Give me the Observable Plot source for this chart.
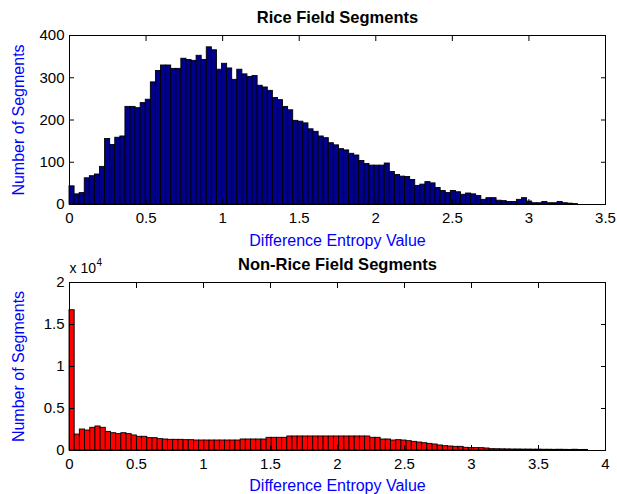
<!DOCTYPE html>
<html><head><meta charset="utf-8">
<script src="https://cdn.jsdelivr.net/npm/d3@7"></script>
<script src="https://cdn.jsdelivr.net/npm/@observablehq/plot@0.6"></script>
<style>
body{margin:0;background:#fff}
#c{width:617px;height:494px;position:relative}
#c svg{display:block;overflow:visible}
</style>
</head><body><div id="c"></div>
<script>
// ---- Data ----
const riceTitle = "Rice Field Segments";
const nonRiceTitle = "Non-Rice Field Segments";
const xLabel = "Difference Entropy Value";
const yLabel = "Number of Segments";

const riceBinWidth = 0.0332;
const riceCounts = [
  43,24,27,62,67,71,89,155,141,158,161,231,231,228,240,248,289,316,329,329,321,321,345,342,340,
  352,342,372,365,319,333,322,295,319,308,302,304,281,277,269,252,247,231,223,198,196,192,178,172,161,157,
  145,140,131,128,120,116,103,96,92,92,92,97,77,70,66,65,58,44,47,53,50,39,
  32,27,32,29,23,26,24,20,11,15,15,9,8,6,6,11,15,7,3,3,6,3,3,6,3,2,1
];

const nonRiceBinWidth = 0.0387;
const nonRiceCounts = [
  16700,1900,2500,2380,2700,2860,2700,2220,2060,1950,2060,1950,1790,1630,1630,1470,1470,1350,1310,1270,1270,1270,1230,1230,1190,1190,1190,1190,1190,1190,1190,1190,1190,
  1310,1310,1310,1310,1310,
  1510,1510,1510,1510,
  1670,1670,1670,1670,1670,1670,1670,1670,1670,1670,1670,1670,1670,1670,1670,1670,
  1510,1510,
  1310,1310,
  1190,1230,1190,1110,1030,950,870,790,715,600,515,475,435,435,320,280,280,280,240,
  160,150,140,130,120,120,110,110,100,100,90,90,80,90,80,70,90,60,70
];

const riceXTicks = [0,0.5,1,1.5,2,2.5,3,3.5];
const riceYTicks = [0,100,200,300,400];
const nonRiceXTicks = [0,0.5,1,1.5,2,2.5,3,3.5,4];
const nonRiceYTicks = [0,5000,10000,15000,20000];
const nonRiceYTickLabels = ["0","0.5","1","1.5","2"];
const sciLabel = "x 10";
const sciExp = "4";

// ---- Chart builder ----
function chart({counts, binWidth, fill, xDomain, xTicks, yDomain, yTicks, yFormat, title, marginTop, marginBottom, height, xLabelDy, extra = []}) {
  const data = counts.map((v, i) => ({x1: i * binWidth, x2: (i + 1) * binWidth, y: v}));
  return Plot.plot({
    width: 617,
    height,
    marginTop,
    marginBottom,
    marginLeft: 69,
    marginRight: 12,
    x: {domain: xDomain},
    y: {domain: yDomain},
    style: {fontFamily: "'Liberation Sans', Arial, sans-serif", fontSize: "15px", color: "black", background: "white", overflow: "visible"},
    marks: [
      Plot.rectY(data, {x1: "x1", x2: "x2", y: "y", fill, stroke: "black", strokeWidth: 0.9}),
      Plot.frame({stroke: "black"}),
      Plot.axisX(xTicks, {anchor: "bottom", tickSize: -5, text: null, label: null}),
      Plot.axisX(xTicks, {anchor: "top", tickSize: -5, text: null, label: null}),
      Plot.axisX(xTicks, {anchor: "bottom", tickSize: 0, tickPadding: 8, tickFormat: d => String(d), label: null, fill: "black"}),
      Plot.axisY(yTicks, {anchor: "left", tickSize: -5, text: null, label: null}),
      Plot.axisY(yTicks, {anchor: "right", tickSize: -5, text: null, label: null}),
      Plot.axisY(yTicks, {anchor: "left", tickSize: 0, tickPadding: 5, tickFormat: yFormat, label: null, fill: "black"}),
      Plot.text([title], {frameAnchor: "top", lineAnchor: "middle", dy: -18, fontWeight: "bold", fontSize: 16.5, fill: "black"}),
      Plot.text([xLabel], {frameAnchor: "bottom", lineAnchor: "middle", dy: xLabelDy, fill: "blue", fontSize: 16}),
      Plot.text([yLabel], {frameAnchor: "left", textAnchor: "middle", lineAnchor: "middle", dx: -51, rotate: -90, fill: "blue", fontSize: 16}),
      ...extra
    ]
  });
}

const c = document.getElementById("c");
c.appendChild(chart({
  counts: riceCounts, binWidth: riceBinWidth, fill: "#00008b",
  xDomain: [0, 3.5], xTicks: riceXTicks, yDomain: [0, 400], yTicks: riceYTicks,
  yFormat: d => String(d), title: riceTitle,
  marginTop: 35, marginBottom: 49, height: 253, xLabelDy: 36
}));
c.appendChild(chart({
  counts: nonRiceCounts, binWidth: nonRiceBinWidth, fill: "#ff0000",
  xDomain: [0, 4], xTicks: nonRiceXTicks, yDomain: [0, 20000], yTicks: nonRiceYTicks,
  yFormat: d => nonRiceYTickLabels[nonRiceYTicks.indexOf(d)], title: nonRiceTitle,
  marginTop: 29, marginBottom: 44, height: 241, xLabelDy: 35,
  extra: [
    Plot.text([sciLabel], {frameAnchor: "top-left", textAnchor: "start", lineAnchor: "middle", dx: 0, dy: -14, fontSize: 14, fill: "black"}),
    Plot.text([sciExp], {frameAnchor: "top-left", textAnchor: "start", lineAnchor: "middle", dx: 27, dy: -20, fontSize: 10, fill: "black"})
  ]
}));
</script></body></html>
